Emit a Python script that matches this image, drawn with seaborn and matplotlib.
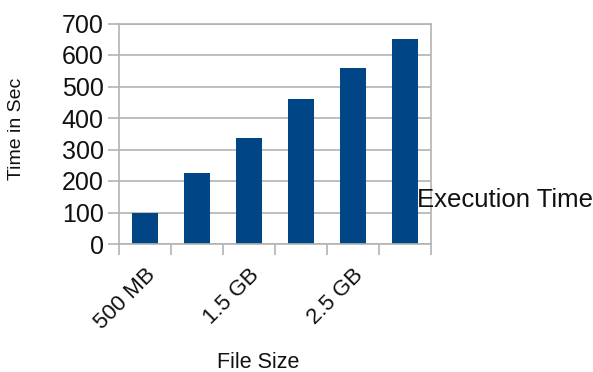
import matplotlib
matplotlib.use("Agg")
import matplotlib.pyplot as plt
import seaborn as sns
import pandas as pd

# Execution time per input file size
file_sizes = ["500 MB", "1 GB", "1.5 GB", "2 GB", "2.5 GB", "3 GB"]
exec_times = [100, 225, 338, 460, 560, 650]
shown_labels = ["500 MB", "", "1.5 GB", "", "2.5 GB", ""]
y_ticks = [0, 100, 200, 300, 400, 500, 600, 700]

df = pd.DataFrame({"File Size": file_sizes, "Time in Sec": exec_times})

sns.set_theme(style="white")
plt.rcParams["font.family"] = ["Liberation Sans", "DejaVu Sans"]

W, H = 593, 372
fig = plt.figure(figsize=(W / 100, H / 100), dpi=100)
ax = fig.add_axes([119 / W, 1 - 244 / H, (431 - 119) / W, (244 - 23.5) / H])

sns.barplot(data=df, x="File Size", y="Time in Sec", color="#004586",
            saturation=1, width=0.5, ax=ax, label="Execution Time")
for p in ax.patches:
    p.set_edgecolor("none")

grid_c = "#b3b3b3"
ax.set_ylim(0, 700)
ax.set_xlim(-0.5, len(file_sizes) - 0.5)
ax.set_yticks(y_ticks)
ax.set_yticklabels([str(v) for v in y_ticks], fontsize=18, color="#111111")
ax.yaxis.grid(True, color=grid_c, linewidth=1.2)
ax.set_axisbelow(True)
ax.tick_params(axis="y", length=8, width=1.2, color=grid_c, pad=3, left=True)

ax.set_xticks(range(len(file_sizes)))
ax.set_xticklabels(shown_labels, rotation=45, ha="right", va="top",
                   rotation_mode="anchor", fontsize=16, color="#111111")
ax.set_xticks([i - 0.5 for i in range(len(file_sizes) + 1)], minor=True)
ax.tick_params(axis="x", which="major", length=0, pad=15)
ax.tick_params(axis="x", which="minor", length=8, width=1.2, color=grid_c,
               bottom=True)

for s in ax.spines.values():
    s.set_color(grid_c)
    s.set_linewidth(1.2)

ax.set_ylabel("Time in Sec", fontsize=14, color="#111111", va="center")
ax.yaxis.set_label_coords(-(119 - 17) / (431 - 119), 0.52)
ax.set_xlabel("File Size", fontsize=15.5, color="#111111", va="center")
ax.xaxis.set_label_coords(0.445, -(362 - 244) / (244 - 23.5))

handles, labels = ax.get_legend_handles_labels()
leg = ax.legend(handles, labels, handlelength=0, handletextpad=0,
                frameon=False, loc="center left", borderpad=0,
                borderaxespad=0, fontsize=18.5,
                bbox_to_anchor=(417 / W, 1 - 200 / H),
                bbox_transform=fig.transFigure)
for h in leg.legend_handles:
    h.set_visible(False)
for t in leg.get_texts():
    t.set_color("#111111")

fig.savefig("out.png", dpi=100)
